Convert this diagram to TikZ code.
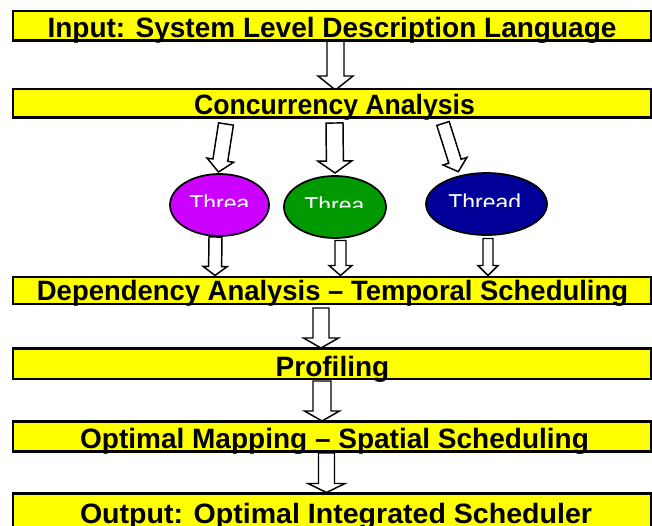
\documentclass[tikz,border=0pt]{standalone}
\usepackage{fontspec}
\setmainfont{Liberation Sans}
\usetikzlibrary{calc,fit,shapes.geometric}
\definecolor{boxyellow}{RGB}{255,255,0}
\definecolor{thmag}{RGB}{204,0,255}
\definecolor{thgreen}{RGB}{0,153,0}
\definecolor{thblue}{RGB}{0,0,153}
\newcommand{\blockarr}[5]{%
  \pgfmathsetlengthmacro\bsw{#3*0.375pt}%
  \pgfmathsetlengthmacro\bhw{#4*0.375pt}%
  \pgfmathsetlengthmacro\bhl{#5*0.75pt}%
  \coordinate (#2-h) at ($(#2)!\bhl!(#1)$);
  \draw[blockarrow] ($(#1)!\bsw!90:(#2)$) -- ($(#2-h)!\bsw!90:(#2)$) -- ($(#2-h)!\bhw!90:(#2)$) -- (#2) -- ($(#2-h)!\bhw!-90:(#2)$) -- ($(#2-h)!\bsw!-90:(#2)$) -- ($(#1)!\bsw!-90:(#2)$) -- cycle;
}
\tikzset{
  ybox/.style={draw=black, line width=1.7pt, fill=boxyellow, inner sep=0pt},
  btext/.style={font=\fontsize{21pt}{25pt}\selectfont\bfseries, inner sep=0pt, anchor=base},
  thread/.style={ellipse, draw=black, line width=1.3pt, inner sep=0pt, minimum height=46.5pt},
  ttext/.style={font=\fontsize{17.25pt}{20pt}\selectfont, text=white, inner sep=0pt, anchor=base west},
  blockarrow/.style={draw=black, fill=white, line width=1.1pt, line join=miter}
}
\begin{document}
\begin{tikzpicture}[x=0.75pt,y=-0.75pt]
\useasboundingbox (0,0) rectangle (652,525);
\clip (0,0) rectangle (652,525);
% arrow end points
\coordinate (a1s) at (335.5,41);  \coordinate (a1e) at (335.5,90);
\coordinate (a2s) at (226,124);   \coordinate (a2e) at (218.5,172);
\coordinate (a3s) at (334.5,123); \coordinate (a3e) at (335,173);
\coordinate (a4s) at (443,123.5); \coordinate (a4e) at (458.3,171.7);
\coordinate (a5s) at (215.5,237); \coordinate (a5e) at (215,275.5);
\coordinate (a6s) at (340.5,240.5); \coordinate (a6e) at (340.5,275.5);
\coordinate (a7s) at (488,238.5); \coordinate (a7e) at (488,275.5);
\coordinate (a8s) at (321,308);   \coordinate (a8e) at (321,348);
\coordinate (a9s) at (322,381);   \coordinate (a9e) at (322,421);
\coordinate (a10s) at (326.5,453); \coordinate (a10e) at (326.5,492.5);
\blockarr{a1s}{a1e}{17}{35}{14}
\blockarr{a2s}{a2e}{15}{27}{12}
\blockarr{a3s}{a3e}{17}{34}{12}
\blockarr{a4s}{a4e}{13}{25}{11}
\blockarr{a5s}{a5e}{13}{24}{9}
\blockarr{a6s}{a6e}{11}{23}{10}
\blockarr{a7s}{a7e}{10}{20}{10}
\blockarr{a8s}{a8e}{16}{35}{10}
\blockarr{a9s}{a9e}{18}{35}{10}
\blockarr{a10s}{a10e}{16}{37}{9}
% boxes
\coordinate (b1a) at (13,11);    \coordinate (b1b) at (651,40.5);
\coordinate (b2a) at (13,89);    \coordinate (b2b) at (651,117.5);
\coordinate (b3a) at (13,277);   \coordinate (b3b) at (651,304);
\coordinate (b4a) at (13,348.5); \coordinate (b4b) at (651,379);
\coordinate (b5a) at (13,421.5); \coordinate (b5b) at (651,451.5);
\coordinate (b6a) at (13,493.5); \coordinate (b6b) at (651,532);
\node[ybox, fit=(b1a)(b1b)] (b1) {};
\node[ybox, fit=(b2a)(b2b)] (b2) {};
\node[ybox, fit=(b3a)(b3b)] (b3) {};
\node[ybox, fit=(b4a)(b4b)] (b4) {};
\node[ybox, fit=(b5a)(b5b)] (b5) {};
\node[ybox, fit=(b6a)(b6b)] (b6) {};
\node[btext] (t1) at (332,37.5) {Input: System Level Description Language};
\node[btext] (t2) at (334.5,114) {\scalebox{0.95}[1]{Concurrency Analysis}};
\node[btext] (t3) at (332.5,300.5) {\scalebox{0.98}[1]{Dependency Analysis -- Temporal Scheduling}};
\node[btext] (t4) at (332.5,376) {Profiling};
\node[btext] (t5) at (334.5,448) {Optimal Mapping -- Spatial Scheduling};
\node[btext] (t6) at (336,523.5) {\scalebox{1.02}[1]{Output: Optimal Integrated Scheduler}};
% threads
\node[thread, fill=thmag, minimum width=74.25pt] (th1) at (219.5,205) {};
\node[thread, fill=thgreen, minimum width=76.5pt] (th2) at (335,207) {};
\node[thread, fill=thblue, minimum width=90.75pt] (th3) at (486.5,204) {};
\begin{scope}
\clip (185,185) rectangle (249.5,206);
\node[ttext] (l1) at (189,211.5) {Thread};
\end{scope}
\begin{scope}
\clip (300,187) rectangle (363.5,207);
\node[ttext] (l2) at (304,213.5) {Thread};
\end{scope}
\begin{scope}
\clip (440,184) rectangle (530,206);
\node[ttext] (l3) at (448,210.5) {Thread};
\end{scope}
\end{tikzpicture}
\end{document}
